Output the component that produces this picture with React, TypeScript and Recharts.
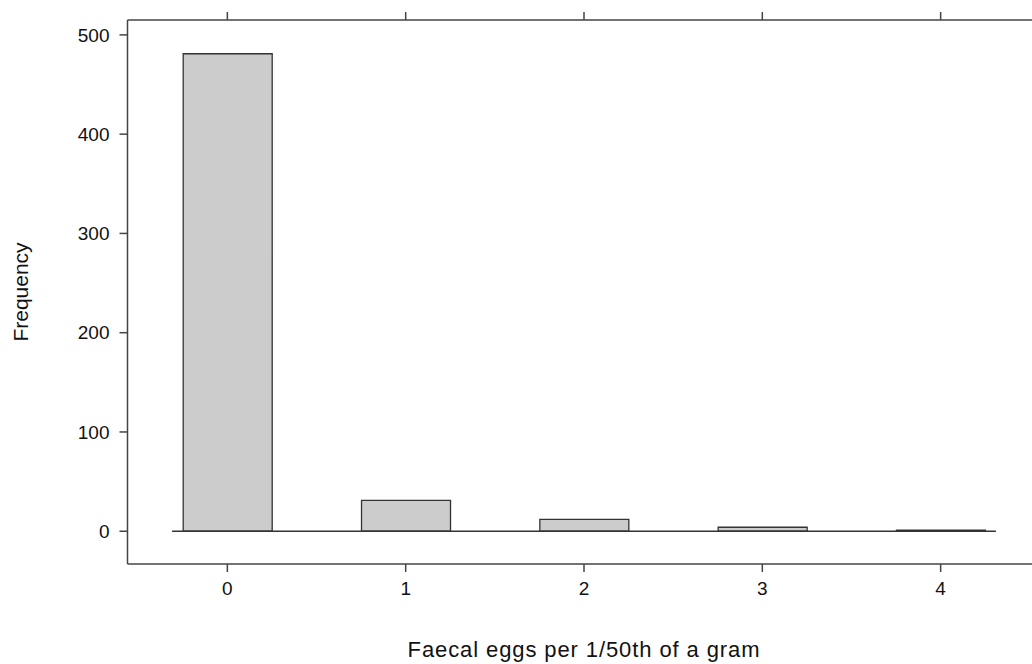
import { BarChart, Bar, XAxis, YAxis, ReferenceLine } from "recharts";

// faecal egg counts (per 1/50th of a gram) and how often each was seen
const eggCounts = [0, 1, 2, 3, 4];
const frequencies = [481, 31, 12, 4, 1];
const yTicks = [0, 100, 200, 300, 400, 500];

const xDomain: [number, number] = [-0.56, 4.56];
const yDomain: [number, number] = [-33, 515];
const baselineFrom = -0.31;
const baselineTo = 4.31;

const data = eggCounts.map((eggs, i) => ({ eggs, count: frequencies[i] }));

const axisColor = "#444";
const tickFont = { fontSize: 19, fill: "#111", fontFamily: "Liberation Sans, Arial, sans-serif" };

export default function App() {
  return (
    <div
      style={{
        position: "absolute",
        left: 0,
        top: 0,
        width: 1032,
        height: 664,
        overflow: "hidden",
        background: "#fff",
        fontFamily: "Liberation Sans, Arial, sans-serif",
      }}
    >
      <BarChart
        width={1050}
        height={664}
        data={data}
        margin={{ top: 0, right: 9.5, bottom: 0, left: 0 }}
      >
        <XAxis
          dataKey="eggs"
          type="number"
          domain={xDomain}
          ticks={eggCounts}
          allowDataOverflow
          height={100}
          tickSize={8}
          tickMargin={10}
          tick={tickFont}
          axisLine={{ stroke: axisColor, strokeWidth: 1.5 }}
          tickLine={{ stroke: axisColor, strokeWidth: 1.5 }}
          label={{
            content: (props: any) => {
              const vb = props.viewBox;
              return (
                <text
                  x={vb.x + vb.width / 2}
                  y={vb.y + 93}
                  textAnchor="middle"
                  fontSize={22}
                  letterSpacing={0.9}
                  fill="#111"
                >
                  Faecal eggs per 1/50th of a gram
                </text>
              );
            },
          }}
        />
        <XAxis
          xAxisId="top"
          orientation="top"
          dataKey="eggs"
          type="number"
          domain={xDomain}
          ticks={eggCounts}
          allowDataOverflow
          height={20}
          tickSize={8}
          tickFormatter={() => ""}
          axisLine={{ stroke: axisColor, strokeWidth: 1.5 }}
          tickLine={{ stroke: axisColor, strokeWidth: 1.5 }}
        />
        <YAxis
          type="number"
          domain={yDomain}
          ticks={yTicks}
          allowDataOverflow
          width={127.5}
          tickSize={8}
          tickMargin={10}
          tick={tickFont}
          axisLine={{ stroke: axisColor, strokeWidth: 1.5 }}
          tickLine={{ stroke: axisColor, strokeWidth: 1.5 }}
          label={{
            content: (props: any) => {
              const vb = props.viewBox;
              const cx = vb.x + 28;
              const cy = vb.y + vb.height / 2;
              return (
                <text
                  x={cx}
                  y={cy}
                  textAnchor="middle"
                  fontSize={21}
                  fill="#111"
                  transform={`rotate(-90 ${cx} ${cy})`}
                >
                  Frequency
                </text>
              );
            },
          }}
        />
        <Bar
          dataKey="count"
          barSize={89}
          fill="#cccccc"
          stroke="#333"
          strokeWidth={1.3}
          isAnimationActive={false}
        />
        <ReferenceLine
          segment={[
            { x: baselineFrom, y: 0 },
            { x: baselineTo, y: 0 },
          ]}
          stroke="#333"
          strokeWidth={1.6}
        />
      </BarChart>
    </div>
  );
}
